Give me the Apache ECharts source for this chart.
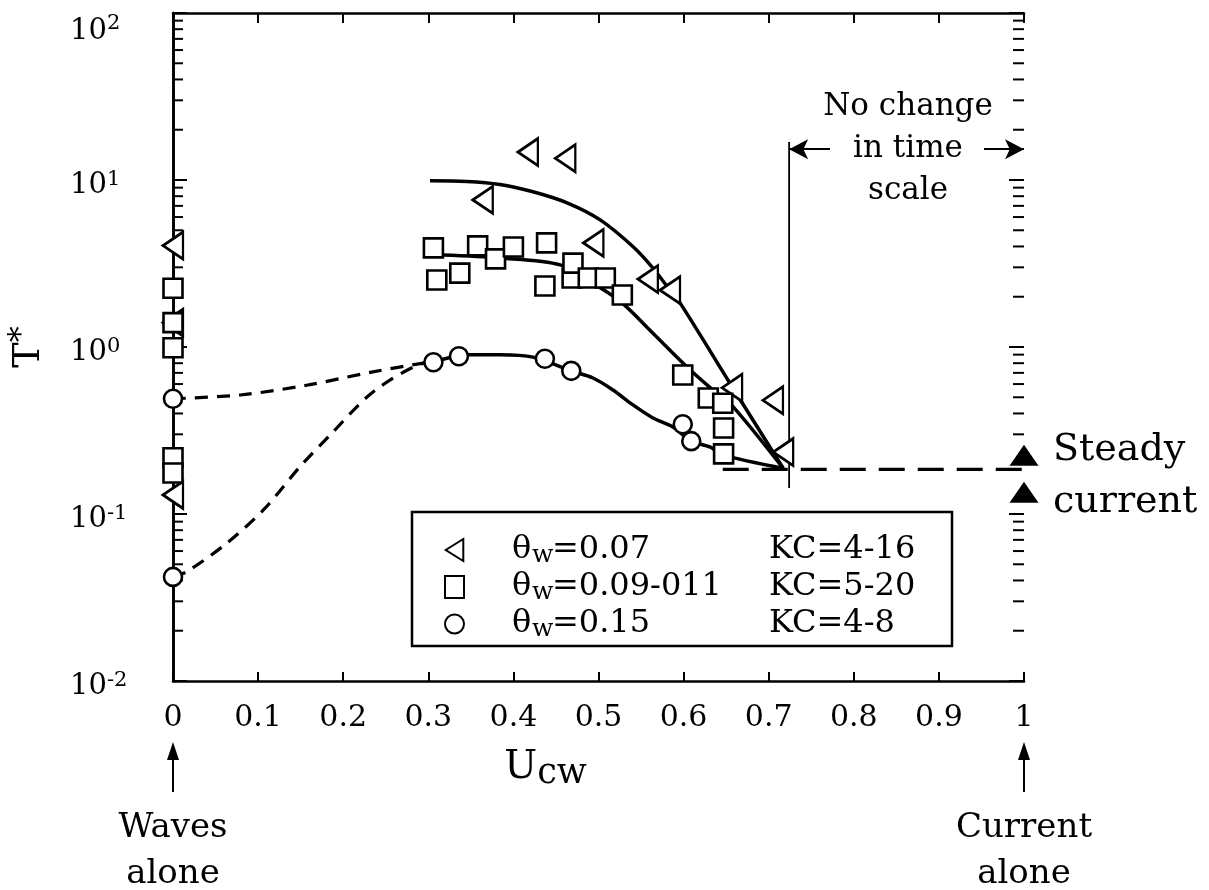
<!DOCTYPE html>
<html>
<head>
<meta charset="utf-8">
<title>T* against Ucw</title>
<script src="https://cdn.jsdelivr.net/npm/echarts@6/dist/echarts.min.js"></script>
<style>
  html, body { margin: 0; padding: 0; background: #fff; }
  #chart { width: 1209px; height: 890px; }
</style>
</head>
<body>
<div id="chart"></div>
<script>
// tick labels
var xTickLabels = ['0', '0.1', '0.2', '0.3', '0.4', '0.5', '0.6', '0.7', '0.8', '0.9', '1'];
var yTickExponents = ['-2', '-1', '0', '1', '2'];
var yDecades = [0.01, 0.1, 1, 10, 100];
var minorMultipliers = [2, 3, 4, 5, 6, 7, 8, 9];

// legend text
var legendTheta = ['0.07', '0.09-011', '0.15'];
var legendKC = ['4-16', '5-20', '4-8'];

// theta_w = 0.07 (triangles)
var triU = [0, 0, 0, 0.364, 0.417, 0.461, 0.494, 0.558, 0.584, 0.657, 0.705, 0.717];
var triT = [4.05, 1.4, 0.13, 7.6, 14.7, 13.5, 4.2, 2.55, 2.19, 0.57, 0.48, 0.235];

// theta_w = 0.09-0.11 (squares)
var sqU = [0, 0, 0, 0, 0, 0.306, 0.310, 0.337, 0.358, 0.379, 0.400, 0.437, 0.439,
  0.469, 0.470, 0.488, 0.508, 0.528, 0.599, 0.629, 0.646, 0.647, 0.647];
var sqT = [2.25, 1.4, 0.99, 0.217, 0.176, 3.92, 2.52, 2.77, 4.03, 3.37, 3.97, 2.32, 4.2,
  2.59, 3.18, 2.59, 2.59, 2.05, 0.68, 0.495, 0.46, 0.327, 0.229];

// theta_w = 0.15 (circles)
var cirU = [0, 0, 0.306, 0.336, 0.437, 0.468, 0.599, 0.609];
var cirT = [0.49, 0.042, 0.81, 0.88, 0.85, 0.72, 0.345, 0.273];

// fitted curves
var fitTriU = [0.302, 0.345, 0.384, 0.423, 0.463, 0.502, 0.541, 0.564, 0.581, 0.596, 0.655, 0.717];
var fitTriT = [9.9, 9.8, 9.4, 8.5, 7.3, 5.77, 3.97, 2.97, 2.29, 1.83, 0.6, 0.188];
var fitSqU = [0.316, 0.384, 0.455, 0.502, 0.528, 0.564, 0.604, 0.635, 0.658, 0.717];
var fitSqT = [3.55, 3.41, 3.1, 2.26, 1.83, 1.21, 0.76, 0.55, 0.44, 0.188];
var fitCirU = [0.306, 0.345, 0.384, 0.423, 0.468, 0.4935, 0.517, 0.5405, 0.564, 0.5875, 0.609, 0.631, 0.646, 0.717];
var fitCirT = [0.81, 0.9, 0.9, 0.87, 0.72, 0.652, 0.553, 0.45, 0.376, 0.332, 0.273, 0.252, 0.226, 0.188];

// dashed links to the waves-alone points
var dashUpU = [0, 0.079, 0.157, 0.235, 0.294, 0.306];
var dashUpT = [0.49, 0.516, 0.59, 0.71, 0.8, 0.81];
var dashLoU = [0, 0.0161, 0.0631, 0.1062, 0.1492, 0.1865, 0.2354, 0.294, 0.306];
var dashLoT = [0.042, 0.0451, 0.0668, 0.1057, 0.192, 0.304, 0.54, 0.8, 0.81];

// steady current level and limit of change
var steadyU = [0.646, 1.0];
var steadyT = [0.185, 0.185];
var steadyMarkU = [1.0, 1.0];
var steadyMarkT = [0.225, 0.135];
var limitU = [0.724, 0.724];
var limitT = [0.143, 16.9];
var arrowT = 15.3;
var arrowLeftU = [0.772, 0.724];
var arrowRightU = [0.953, 1.0];

var SERIF = '"DejaVu Serif", "Liberation Serif", serif';
var LEFT_TRI = 'path://M0,50L80,0L80,100Z';

function zip(xs, ys) {
  return xs.map(function (x, i) { return [x, ys[i]]; });
}

// log ticks: [x, value, isMajor]
var logTickData = [];
yDecades.forEach(function (d, i) {
  logTickData.push([0, d, 1]);
  if (i < yDecades.length - 1) {
    minorMultipliers.forEach(function (m) { logTickData.push([0, d * m, 0]); });
  }
});

var chart = echarts.init(document.getElementById('chart'));

var markerStyle = { color: '#fff', borderColor: '#000', borderWidth: 2.6, opacity: 1 };
var curveStyle = { color: '#000', width: 3.5 };

var option = {
  animation: false,
  backgroundColor: '#fff',
  textStyle: { fontFamily: SERIF, color: '#000' },
  grid: { left: 173, right: 185, top: 13, bottom: 209, outerBoundsMode: 'none' },
  legend: {
    data: ['tri', 'sq', 'cir'],
    selectedMode: false,
    orient: 'vertical',
    left: 412,
    top: 512,
    padding: [22, 33, 4, 32],
    itemGap: 3,
    itemWidth: 19,
    itemHeight: 22,
    borderColor: '#000',
    borderWidth: 2.5,
    backgroundColor: '#fff',
    formatter: function (name) {
      var i = ['tri', 'sq', 'cir'].indexOf(name);
      return '{gap|}{th|θ}{w|w}{v|=' + legendTheta[i] + '}{kc|KC=' + legendKC[i] + '}';
    },
    textStyle: {
      color: '#000',
      fontFamily: SERIF,
      fontSize: 32,
      rich: {
        gap: { width: 43 },
        th: { fontSize: 32, width: 20, lineHeight: 36, fontFamily: SERIF },
        w: { fontSize: 25, width: 20, lineHeight: 18, verticalAlign: 'bottom', fontFamily: SERIF },
        v: { fontSize: 32, width: 217, lineHeight: 36, fontFamily: SERIF },
        kc: { fontSize: 32, width: 150, lineHeight: 36, fontFamily: SERIF }
      }
    }
  },
  xAxis: [{
    type: 'value',
    min: 0,
    max: 1,
    interval: 0.1,
    position: 'bottom',
    name: '{u|U}{cw|cw}',
    nameLocation: 'middle',
    nameGap: 64,
    nameTextStyle: {
      padding: [0, 106, 0, 0],
      rich: {
        u: { fontSize: 39, lineHeight: 46, fontFamily: SERIF, color: '#000' },
        cw: { fontSize: 35, lineHeight: 24, verticalAlign: 'bottom', fontFamily: SERIF, color: '#000' }
      }
    },
    axisLine: { lineStyle: { color: '#000', width: 2.6 } },
    axisTick: { inside: true, length: 9, lineStyle: { color: '#000', width: 2 } },
    axisLabel: {
      color: '#000', fontFamily: SERIF, fontSize: 30, margin: 22,
      formatter: function (v, i) { return xTickLabels[i]; }
    },
    splitLine: { show: false }
  }, {
    type: 'value',
    min: 0,
    max: 1,
    interval: 0.1,
    position: 'top',
    axisLine: { lineStyle: { color: '#000', width: 2.6 } },
    axisTick: { inside: true, length: 10, lineStyle: { color: '#000', width: 2 } },
    axisLabel: { show: false },
    splitLine: { show: false }
  }],
  yAxis: [{
    type: 'log',
    logBase: 10,
    min: 0.01,
    max: 100,
    position: 'left',
    name: '{t|T}{s|*}',
    nameLocation: 'middle',
    nameRotate: 90,
    nameGap: 122,
    nameTextStyle: {
      rich: {
        t: { fontSize: 38, lineHeight: 44, fontFamily: SERIF, color: '#000' },
        s: { fontSize: 32, lineHeight: 26, verticalAlign: 'top', fontFamily: SERIF, color: '#000' }
      }
    },
    axisLine: { lineStyle: { color: '#000', width: 2.6 } },
    axisTick: { show: false },
    axisLabel: {
      align: 'left',
      margin: 103,
      verticalAlignMaxLabel: 'top',
      formatter: function (v, i) {
        var top = i === yTickExponents.length - 1 ? 't' : '';
        return '{b' + top + '|10}{s' + top + '|' + yTickExponents[i] + '}';
      },
      rich: {
        b: { fontSize: 29, lineHeight: 42, padding: [10, 0, 0, 0], fontFamily: SERIF, color: '#000' },
        s: { fontSize: 21, lineHeight: 20, padding: [10, 0, 0, 0], verticalAlign: 'top', fontFamily: SERIF, color: '#000' },
        bt: { fontSize: 29, lineHeight: 36, fontFamily: SERIF, color: '#000' },
        st: { fontSize: 21, lineHeight: 18, verticalAlign: 'top', fontFamily: SERIF, color: '#000' }
      }
    },
    splitLine: { show: false }
  }, {
    type: 'log',
    logBase: 10,
    min: 0.01,
    max: 100,
    position: 'right',
    axisLine: { lineStyle: { color: '#000', width: 2.6 } },
    axisTick: { show: false },
    axisLabel: { show: false },
    splitLine: { show: false }
  }],
  series: [
    {
      // log ticks (major and minor) on both vertical axes, pointing inwards
      type: 'custom',
      silent: true,
      clip: false,
      data: logTickData,
      renderItem: function (params, api) {
        var v = api.value(1);
        var len = api.value(2) ? 14 : 10;
        var a = api.coord([0, v]);
        var b = api.coord([1, v]);
        return {
          type: 'group',
          children: [
            { type: 'line', shape: { x1: a[0], y1: a[1], x2: a[0] + len, y2: a[1] }, style: { stroke: '#000', lineWidth: 2 } },
            { type: 'line', shape: { x1: b[0] - len - 1, y1: b[1], x2: b[0], y2: b[1] }, style: { stroke: '#000', lineWidth: 2 } }
          ]
        };
      }
    },
    { type: 'line', data: zip(fitTriU, fitTriT), smooth: 0.3, symbol: 'none', lineStyle: curveStyle, silent: true, z: 2 },
    { type: 'line', data: zip(fitSqU, fitSqT), smooth: 0.3, symbol: 'none', lineStyle: curveStyle, silent: true, z: 2 },
    { type: 'line', data: zip(fitCirU, fitCirT), smooth: 0.3, symbol: 'none', lineStyle: curveStyle, silent: true, z: 2 },
    { type: 'line', data: zip(dashUpU, dashUpT), smooth: 0.3, symbol: 'none', silent: true, z: 2,
      lineStyle: { color: '#000', width: 3.2, type: [13, 9] } },
    { type: 'line', data: zip(dashLoU, dashLoT), smooth: 0.3, symbol: 'none', silent: true, z: 2,
      lineStyle: { color: '#000', width: 3.2, type: [13, 9] } },
    { type: 'line', data: zip(steadyU, steadyT), symbol: 'none', silent: true, z: 2,
      lineStyle: { color: '#000', width: 3.2, type: [26, 13] } },
    {
      type: 'line', data: zip(limitU, limitT), symbol: 'none', silent: true, z: 2,
      lineStyle: { color: '#000', width: 1.8 },
      markLine: {
        silent: true,
        symbol: ['none', 'arrow'],
        symbolSize: [15, 19],
        label: { show: false },
        lineStyle: { color: '#000', width: 1.8, type: 'solid' },
        data: [
          [{ coord: [arrowLeftU[0], arrowT] }, { coord: [arrowLeftU[1], arrowT] }],
          [{ coord: [arrowRightU[0], arrowT] }, { coord: [arrowRightU[1], arrowT] }]
        ]
      }
    },
    {
      name: 'tri', type: 'scatter', data: zip(triU, triT), clip: false, z: 4,
      symbol: LEFT_TRI, symbolSize: [20, 27], itemStyle: markerStyle
    },
    {
      name: 'sq', type: 'scatter', data: zip(sqU, sqT), clip: false, z: 4,
      symbol: 'rect', symbolSize: 19, itemStyle: markerStyle
    },
    {
      name: 'cir', type: 'scatter', data: zip(cirU, cirT), clip: false, z: 4,
      symbol: 'circle', symbolSize: 18, itemStyle: markerStyle
    },
    {
      type: 'scatter', data: zip(steadyMarkU, steadyMarkT), clip: false, z: 4, silent: true,
      symbol: 'triangle', symbolSize: [29, 21], itemStyle: { color: '#000', opacity: 1 }
    }
  ]
};

chart.setOption(option);

// annotations outside the data area, anchored on the axes
var x0 = chart.convertToPixel({ xAxisIndex: 0 }, 0);
var x1 = chart.convertToPixel({ xAxisIndex: 0 }, 1);
var yBottom = chart.convertToPixel({ yAxisIndex: 0 }, 0.01);
var yLevel = chart.convertToPixel({ yAxisIndex: 0 }, steadyT[0]);

function upArrow(x) {
  return {
    type: 'group',
    children: [
      { type: 'line', shape: { x1: x, y1: yBottom + 75, x2: x, y2: yBottom + 111 }, style: { stroke: '#000', lineWidth: 2 } },
      { type: 'polygon', shape: { points: [[x, yBottom + 61], [x - 6, yBottom + 79], [x + 6, yBottom + 79]] }, style: { fill: '#000' } }
    ]
  };
}

function label(text, x, y, size, lh, align) {
  return {
    type: 'text',
    style: {
      text: text, x: x, y: y, fill: '#000',
      fontFamily: SERIF, fontSize: size, lineHeight: lh,
      align: align || 'center', verticalAlign: 'middle'
    }
  };
}

chart.setOption({
  graphic: [
    upArrow(x0),
    upArrow(x1),
    label('Waves\nalone', x0, yBottom + 170, 34, 46),
    label('Current\nalone', x1, yBottom + 170, 34, 46),
    label('Steady\ncurrent', x1 + 29, yLevel + 7, 38, 52, 'left'),
    label('No change\nin time\nscale', 908, 149, 31, 42)
  ]
});
</script>
</body>
</html>
